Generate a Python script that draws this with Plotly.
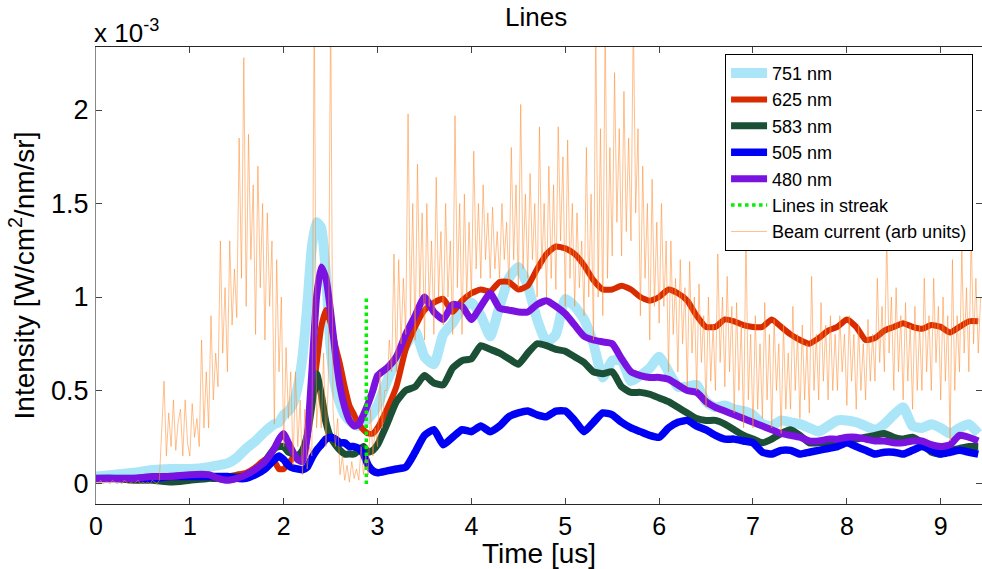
import plotly.graph_objects as go

# ---------------- data (intensity in units of 1e-3 W/cm^2/nm/sr) ----------------
time_us = [0.0, 0.2, 0.4, 0.6, 0.8, 1.0, 1.2, 1.3, 1.4, 1.5, 1.6, 1.7, 1.8, 1.9,
           1.95, 2.0, 2.05, 2.1, 2.15, 2.2, 2.25, 2.3, 2.35, 2.4, 2.45, 2.5, 2.55,
           2.6, 2.65, 2.7, 2.75, 2.8, 2.85, 2.9, 2.95,
           3.0, 3.1, 3.2, 3.3, 3.4, 3.5, 3.6, 3.7, 3.8, 3.9,
           4.0, 4.1, 4.2, 4.3, 4.4, 4.5, 4.6, 4.7, 4.8, 4.9,
           5.0, 5.1, 5.2, 5.3, 5.4, 5.5, 5.6, 5.7, 5.8, 5.9,
           6.0, 6.1, 6.2, 6.3, 6.4, 6.5, 6.6, 6.7, 6.8, 6.9,
           7.0, 7.1, 7.2, 7.3, 7.4, 7.5, 7.6, 7.7, 7.8, 7.9,
           8.0, 8.1, 8.2, 8.3, 8.4, 8.5, 8.6, 8.7, 8.8, 8.9,
           9.0, 9.1, 9.2, 9.3, 9.4]

nm751 = [0.04, 0.05, 0.06, 0.075, 0.08, 0.08, 0.09, 0.10, 0.11, 0.14, 0.19, 0.23, 0.28, 0.32,
         0.33, 0.37, 0.39, 0.43, 0.52, 0.68, 0.95, 1.27, 1.40, 1.37, 1.12, 0.72, 0.52,
         0.43, 0.37, 0.34, 0.32, 0.31, 0.33, 0.35, 0.38,
         0.42, 0.55, 0.66, 0.74, 0.82, 0.68, 0.64, 0.80, 0.86, 0.94,
         0.97, 0.90, 0.79, 0.95, 1.10, 1.16, 1.06, 0.88, 0.76, 0.80,
         0.99, 0.95, 0.88, 0.75, 0.57, 0.66, 0.66, 0.55, 0.58, 0.62,
         0.68, 0.60, 0.52, 0.52, 0.53, 0.44, 0.41, 0.42, 0.40, 0.39,
         0.37, 0.32, 0.31, 0.34, 0.33, 0.32, 0.30, 0.28, 0.31, 0.34,
         0.34, 0.33, 0.31, 0.29, 0.32, 0.37, 0.41, 0.31, 0.30, 0.32,
         0.30, 0.27, 0.30, 0.32, 0.27]

nm625 = [0.03, 0.03, 0.03, 0.03, 0.03, 0.03, 0.04, 0.04, 0.04, 0.05, 0.06, 0.09, 0.13, 0.12,
         0.08, 0.08, 0.11, 0.14, 0.15, 0.17, 0.26, 0.45, 0.64, 0.84, 0.93, 0.86, 0.74,
         0.64, 0.52, 0.42, 0.37, 0.32, 0.29, 0.27, 0.27,
         0.30, 0.40, 0.52, 0.72, 0.84, 0.93, 0.97, 0.99, 0.92, 0.98,
         1.02, 1.04, 1.03, 1.08, 1.08, 1.04, 1.06, 1.15, 1.23, 1.27,
         1.26, 1.23, 1.17, 1.09, 1.04, 1.04, 1.06, 1.04, 1.00, 0.98,
         1.00, 1.04, 1.02, 0.98, 0.90, 0.84, 0.84, 0.88, 0.87, 0.85,
         0.84, 0.84, 0.88, 0.84, 0.80, 0.77, 0.75, 0.78, 0.82, 0.84,
         0.88, 0.84, 0.77, 0.78, 0.82, 0.84, 0.86, 0.84, 0.83, 0.85,
         0.84, 0.81, 0.84, 0.87, 0.87]

nm583 = [0.03, 0.03, 0.02, 0.02, 0.01, 0.02, 0.03, 0.03, 0.04, 0.04, 0.04, 0.06, 0.12, 0.19,
         0.20, 0.20, 0.17, 0.16, 0.15, 0.18, 0.26, 0.42, 0.59, 0.48, 0.33, 0.25, 0.21,
         0.18, 0.16, 0.16, 0.16, 0.18, 0.20, 0.17, 0.18,
         0.21, 0.32, 0.44, 0.50, 0.52, 0.58, 0.54, 0.53, 0.62, 0.66,
         0.67, 0.74, 0.72, 0.70, 0.67, 0.64, 0.70, 0.75, 0.74, 0.72,
         0.71, 0.68, 0.65, 0.60, 0.59, 0.60, 0.52, 0.49, 0.49, 0.48,
         0.46, 0.44, 0.41, 0.38, 0.35, 0.34, 0.34, 0.32, 0.29, 0.26,
         0.24, 0.22, 0.24, 0.27, 0.29, 0.26, 0.22, 0.22, 0.22, 0.22,
         0.23, 0.24, 0.25, 0.26, 0.27, 0.25, 0.24, 0.25, 0.22, 0.17,
         0.16, 0.18, 0.19, 0.20, 0.20]

nm505 = [0.03, 0.03, 0.03, 0.03, 0.04, 0.04, 0.04, 0.04, 0.04, 0.03, 0.03, 0.05, 0.08, 0.13,
         0.15, 0.13, 0.10, 0.085, 0.08, 0.076, 0.09, 0.14, 0.18, 0.21, 0.24, 0.25, 0.24,
         0.22, 0.22, 0.20, 0.20, 0.19, 0.16, 0.10, 0.07,
         0.06, 0.07, 0.08, 0.09, 0.17, 0.26, 0.29, 0.21, 0.25, 0.29,
         0.28, 0.31, 0.28, 0.31, 0.36, 0.38, 0.39, 0.37, 0.36, 0.39,
         0.39, 0.34, 0.28, 0.33, 0.38, 0.37, 0.33, 0.30, 0.28, 0.26,
         0.25, 0.30, 0.33, 0.34, 0.31, 0.29, 0.26, 0.24, 0.24, 0.23,
         0.22, 0.17, 0.16, 0.18, 0.18, 0.16, 0.17, 0.18, 0.19, 0.20,
         0.22, 0.20, 0.18, 0.16, 0.17, 0.17, 0.16, 0.18, 0.20, 0.18,
         0.16, 0.17, 0.18, 0.17, 0.16]

nm480 = [0.03, 0.03, 0.03, 0.04, 0.04, 0.05, 0.05, 0.03, 0.02, 0.03, 0.05, 0.08, 0.12, 0.19,
         0.24, 0.27, 0.22, 0.17, 0.13, 0.12, 0.25, 0.60, 1.00, 1.16, 1.10, 0.92, 0.70,
         0.52, 0.41, 0.34, 0.31, 0.32, 0.37, 0.43, 0.50,
         0.58, 0.62, 0.68, 0.80, 0.90, 1.00, 0.92, 0.88, 0.96, 0.95,
         0.88, 0.95, 1.02, 0.94, 0.93, 0.92, 0.92, 0.96, 0.98, 0.95,
         0.91, 0.85, 0.79, 0.77, 0.76, 0.75, 0.67, 0.60, 0.58, 0.57,
         0.57, 0.56, 0.53, 0.50, 0.49, 0.44, 0.41, 0.39, 0.37, 0.35,
         0.33, 0.31, 0.29, 0.27, 0.26, 0.25, 0.23, 0.23, 0.24, 0.24,
         0.25, 0.25, 0.24, 0.23, 0.23, 0.22, 0.22, 0.23, 0.23, 0.21,
         0.20, 0.21, 0.26, 0.25, 0.23]

streak_time = [2.88, 2.88]
streak_level = [0.0, 1.0]

# beam current, sampled every 0.025 us starting at t = 0
beam_step = 0.025
beam_current = [
    0.01, 0.0, 0.02, 0.0, 0.01, 0.01, 0.0, 0.02, 0.01, 0.0, 0.01, 0.0, 0.02, 0.01,
    0.0, 0.01, 0.0, 0.01, 0.02, 0.0, 0.01, 0.0, 0.01, 0.0, 0.02, 0.01, 0.0, 0.02,
    0.25, 0.55, 0.15, 0.38,   0.2, 0.45, 0.18, 0.33,   0.4, 0.15, 0.45, 0.22,
    0.15, 0.43, 0.25, 0.35,   0.2, 0.77, 0.3, 0.6,     0.3, 0.9, 0.45, 0.7,
    0.52, 1.3, 0.7, 1.05,     0.6, 1.3, 0.85, 1.15,    0.89, 1.85, 1.1, 2.28,
    0.95, 1.87, 1.2, 1.6,     0.8, 1.7, 1.05, 1.5,     0.77, 1.45, 0.95, 1.3,
    0.32, 1.2, 0.6, 1.0,      0.2, 0.73, 0.35, 0.6,    0.1, 0.6, 0.2, 0.45,
    0.05, 0.4, 0.08, 0.2,     0.15, 2.6, 0.3, 0.5,     0.3, 0.7, 0.2, 0.55,
    2.6, 0.4, 0.2, 0.35,      0.05, 0.15, 0.02, 0.1,   0.01, 0.12, 0.03, 0.08,
    0.02, 0.2, 0.05, 0.15,    0.05, 0.4, 0.15, 0.3,    0.2, 0.6, 0.3, 0.5,
    0.5, 0.77, 0.6, 1.23,     0.6, 1.2, 0.75, 1.1,     0.8, 1.98, 0.9, 1.5,
    0.77, 1.71, 1.0, 1.45,    0.77, 1.5, 0.95, 1.3,    0.8, 1.64, 1.0, 1.35,
    0.85, 1.5, 1.0, 1.3,      0.8, 1.97, 1.05, 1.5,    0.8, 1.55, 1.0, 1.4,
    1.0, 1.78, 1.15, 1.5,     1.1, 1.6, 1.2, 1.45,     1.1, 1.48, 1.15, 1.35,
    1.1, 1.5, 1.2, 1.4,       1.05, 1.8, 1.2, 1.6,     1.05, 2.03, 1.15, 1.55,
    1.1, 1.66, 1.2, 1.5,      1.0, 1.91, 1.15, 1.5,    1.0, 1.7, 1.1, 1.6,
    1.04, 1.91, 1.3, 1.75,    0.95, 1.84, 1.1, 1.5,    0.95, 1.45, 1.05, 1.3,
    0.9, 1.8, 1.0, 1.55,      0.77, 2.5, 1.0, 1.9,     0.9, 2.5, 1.1, 1.8,
    1.22, 2.2, 1.4, 1.9,      1.22, 2.1, 1.35, 1.85,   1.3, 2.5, 1.45, 1.9,
    0.9, 1.7, 1.1, 1.5,       0.77, 1.63, 0.95, 1.4,   0.86, 1.5, 0.95, 1.3,
    0.6, 1.3, 0.8, 1.1,       0.6, 1.2, 0.75, 1.05,    0.52, 1.19, 0.7, 1.0,
    0.5, 1.07, 0.65, 0.9,     0.41, 1.0, 0.55, 0.85,   0.5, 1.23, 0.65, 1.0,
    0.52, 1.11, 0.6, 0.95,    0.38, 0.97, 0.5, 0.85,   0.3, 1.34, 0.45, 0.8,
    0.3, 0.9, 0.4, 0.75,      0.35, 0.97, 0.45, 0.8,   0.3, 0.88, 0.5, 0.75,
    0.27, 0.85, 0.4, 0.7,     0.4, 0.95, 0.5, 0.8,     0.35, 0.85, 0.45, 0.75,
    0.38, 1.11, 0.5, 0.8,     0.45, 0.97, 0.55, 0.85,  0.45, 0.9, 0.5, 0.8,
    0.5, 0.9, 0.6, 0.8,       0.42, 0.9, 0.55, 0.8,    0.4, 0.85, 0.5, 0.75,
    0.45, 0.88, 0.55, 0.8,    0.55, 1.1, 0.65, 0.95,   0.6, 1.32, 0.7, 1.0,
    0.5, 1.05, 0.6, 0.9,      0.45, 0.97, 0.55, 0.85,  0.4, 0.95, 0.5, 0.85,
    0.5, 1.1, 0.6, 0.9,       0.5, 1.1, 0.65, 0.95,    0.45, 1.0, 0.55, 0.9,
    0.23, 1.2, 0.5, 0.9,      0.6, 1.25, 0.7, 1.05,    0.6, 1.33, 0.75, 1.1,
    0.7, 1.0]
beam_time = [round(i * beam_step, 3) for i in range(len(beam_current))]

y_ticks = [0, 0.5, 1, 1.5, 2]
y_ticktext = ["0", "0.5", "1", "1.5", "2"]
x_ticks = [0, 1, 2, 3, 4, 5, 6, 7, 8, 9]

# ---------------- figure ----------------
FONT = "Liberation Sans, Arial, sans-serif"
fig = go.Figure()

series = [
    ("751 nm", nm751, "#abe6f8", 10),
    ("625 nm", nm625, "#d92b00", 6),
    ("583 nm", nm583, "#1b4f36", 7),
    ("505 nm", nm505, "#0000f5", 7.5),
    ("480 nm", nm480, "#7a12e0", 7),
]
for name, vals, col, w in series:
    fig.add_trace(go.Scatter(x=time_us, y=vals, mode="lines", name=name,
                             legendgroup=name,
                             line=dict(color=col, width=w, shape="spline", smoothing=0.5)))

fig.add_trace(go.Scatter(x=streak_time, y=streak_level, mode="lines",
                         name="Lines in streak", legendgroup="streak",
                         line=dict(color="#00f000", width=3.5, dash="dot")))

fig.add_trace(go.Scatter(x=beam_time, y=beam_current, mode="lines",
                         name="Beam current (arb units)", legendgroup="beam",
                         line=dict(color="rgba(255,140,50,0.55)", width=1)))

fig.update_layout(
    width=982, height=569,
    margin=dict(l=96, r=0, t=47, b=65, autoexpand=False),
    paper_bgcolor="white", plot_bgcolor="white",
    font=dict(family=FONT, color="black"),
    showlegend=True,
    legend=dict(x=0.71, y=0.985, xanchor="left", yanchor="top",
                bgcolor="white", bordercolor="black", borderwidth=1,
                font=dict(size=18, family=FONT), tracegroupgap=0,
                itemwidth=36),
    xaxis=dict(range=[0, 9.44], tickvals=x_ticks, ticks="inside", ticklen=6,
               showline=True, linecolor="#262626", linewidth=1, mirror="ticks",
               showgrid=False, zeroline=False, automargin=False,
               tickfont=dict(size=25, family=FONT), ticklabelstandoff=0,
               title=dict(text="Time [us]", font=dict(size=28, family=FONT), standoff=5)),
    yaxis=dict(range=[-0.107, 2.337], tickvals=y_ticks, ticktext=y_ticktext,
               ticks="inside", ticklen=6,
               showline=True, linecolor="#888888", linewidth=1, mirror="ticks",
               showgrid=False, zeroline=False, automargin=False,
               tickfont=dict(size=27, family=FONT), ticklabelstandoff=1,
               title=dict(text="Intensity [W/cm<sup>2</sup>/nm/sr]",
                          font=dict(size=28, family=FONT), standoff=8)),
)

fig.add_annotation(text="Lines", xref="paper", yref="paper",
                   x=0.497, y=1, yshift=30, xanchor="center", yanchor="middle",
                   showarrow=False, font=dict(size=26, family=FONT))

fig.add_annotation(text="x 10<sup>-3</sup>", xref="paper", yref="paper",
                   x=0, y=1, xanchor="left", yanchor="bottom", xshift=-4, yshift=-3,
                   showarrow=False, font=dict(size=26, family=FONT))

# remove the browser's default 8px body margin so the figure fills the window
fig.write_html("out.html",
               config={"displayModeBar": False},
               post_script="document.body.style.margin='0px';document.body.style.overflow='hidden';")
